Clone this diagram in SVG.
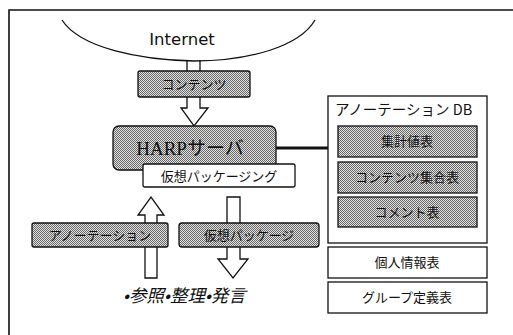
<svg xmlns="http://www.w3.org/2000/svg" width="513" height="335" viewBox="0 0 513 335">
<defs>
<pattern id="dots" width="2" height="2" patternUnits="userSpaceOnUse">
<rect width="2" height="2" fill="#e4e4e4"/>
<rect width="1" height="1" fill="#666"/>
<rect x="1" y="1" width="1" height="1" fill="#666"/>
</pattern>
</defs>
<style>
.g{fill:url(#dots);stroke:#111;stroke-width:1.3}
.w{fill:#fff;stroke:#111;stroke-width:1.3}
.t{font-family:"Noto Sans CJK JP","Noto Sans",sans-serif;font-size:13px;fill:#111;text-anchor:middle}
.ln{fill:none;stroke:#111;stroke-width:1.3}
.ar{fill:#fff;stroke:#111;stroke-width:1.3;stroke-linejoin:miter}
</style>
<rect width="513" height="335" fill="#fff"/>
<g id="frame">
<path d="M9,335 V10 H513" style="fill:none;stroke:#111;stroke-width:1.6"/>
</g>
<g id="internet">
<path class="ln" d="M62,20 C80,48 140,60 194,61 C250,61 300,46 315,20"/>
<text x="182" y="45" style="font-family:'DejaVu Sans',sans-serif;font-size:16.5px;fill:#111" text-anchor="middle">Internet</text>
</g>
<g id="connectors">
<path class="ln" d="M187,60 V71 M200,60 V71"/>
<path class="ar" d="M187,97 V108 H181 L194,126 L208,108 H200 V97"/>
<path d="M276,148 H328" style="fill:none;stroke:#111;stroke-width:2.8"/>
<path class="ar" d="M145,278 V215 H138 L151,197 L164,215 H157 V278 Z"/>
<path class="ar" d="M227,197 H240 V259 H248 L233,278 L218,259 H227 Z"/>
</g>
<g id="contents">
<rect class="g" x="138" y="71" width="112" height="26" rx="2"/>
<text class="t" x="194" y="89">コンテンツ</text>
</g>
<g id="harp">
<rect class="g" x="113" y="126" width="163" height="44" rx="6"/>
<text x="190" y="155" style="font-family:'Liberation Serif','Noto Sans CJK JP',serif;font-size:19px;fill:#111" text-anchor="middle">HARPサーバ</text>
</g>
<g id="vpackaging">
<rect class="w" x="143" y="164" width="152" height="23" rx="2"/>
<text class="t" x="219" y="181">仮想パッケージング</text>
</g>
<g id="annotation">
<rect class="g" x="32" y="223" width="136" height="24" rx="2"/>
<text class="t" x="100" y="240">アノーテーション</text>
</g>
<g id="vpackage">
<rect class="g" x="179" y="223" width="140" height="24" rx="3"/>
<text class="t" x="249" y="240">仮想パッケージ</text>
</g>
<g id="usage">
<text x="123" y="302" style="font-family:'Noto Sans CJK JP',sans-serif;font-size:17.5px;font-style:italic;fill:#111">•参照•整理•発言</text>
</g>
<g id="annotationdb">
<rect class="w" x="328" y="96" width="159" height="147"/>
<text x="335" y="115" style="font-family:'Noto Sans CJK JP',sans-serif;font-size:14.5px;fill:#111">アノーテーション DB</text>
<rect class="g" x="338" y="126" width="139" height="31"/>
<text class="t" x="407" y="146">集計値表</text>
<rect class="g" x="338" y="162" width="139" height="31"/>
<text class="t" x="407" y="182">コンテンツ集合表</text>
<rect class="g" x="338" y="197" width="139" height="30"/>
<text class="t" x="407" y="217">コメント表</text>
</g>
<g id="personal">
<rect class="w" x="328" y="247" width="159" height="31"/>
<text class="t" x="407" y="267">個人情報表</text>
</g>
<g id="group">
<rect class="w" x="328" y="282" width="159" height="31"/>
<text class="t" x="407" y="302">グループ定義表</text>
</g>
</svg>
